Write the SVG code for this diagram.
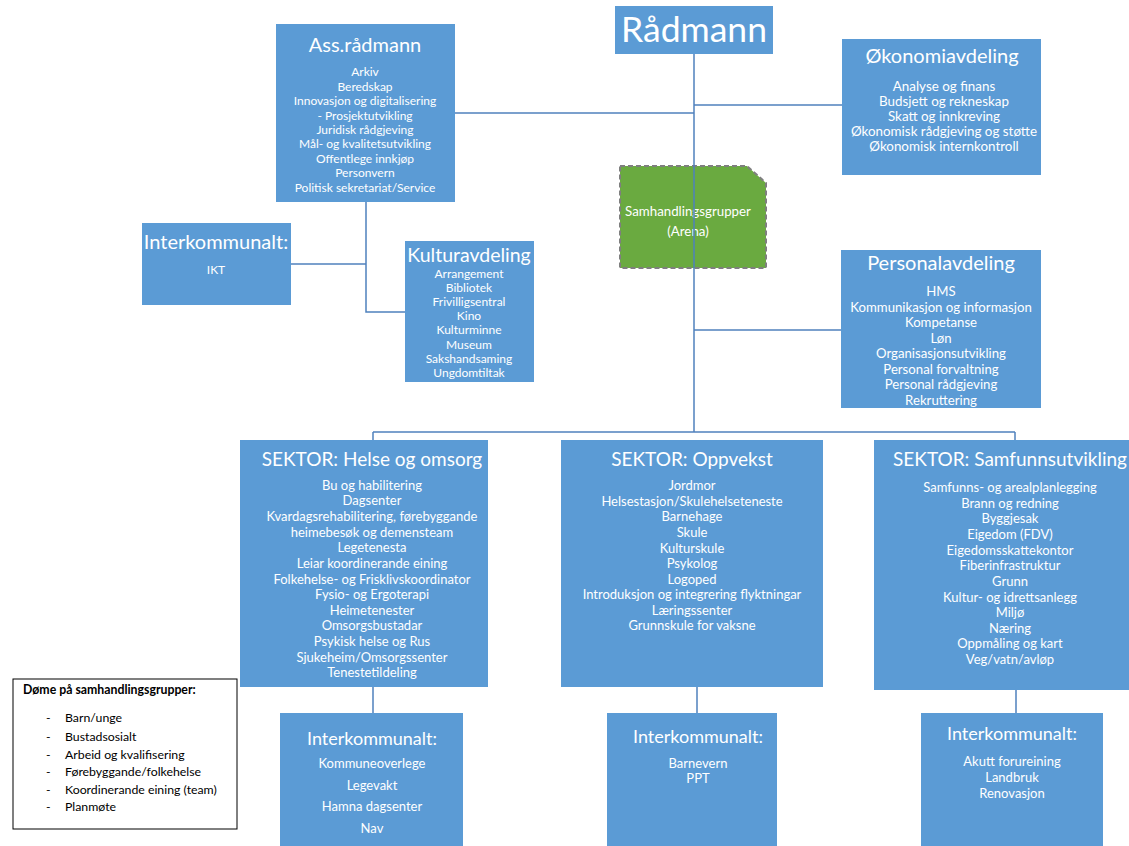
<svg xmlns="http://www.w3.org/2000/svg" width="1129" height="846" viewBox="0 0 1129 846">
<style>
.box{fill:#5B9BD5}
.t{font-family:Lato,"Liberation Sans",sans-serif;fill:#fff;text-anchor:middle}
.h{font-size:20px}
.s{font-size:19px}
.i{font-size:12px}
.i13{font-size:13px}
.i135{font-size:13.4px}
.con{stroke:#4F81BD;stroke-width:1.5;fill:none}
.leg{font-family:Lato,"Liberation Sans",sans-serif;font-size:12.3px;fill:#000}
</style>
<rect width="1129" height="846" fill="#fff"/>

<g id="samhandling">
<path d="M620,166 H747 L766,183 V268 H620 Z" fill="#6AAA40" stroke="#7F7F7F" stroke-width="2" stroke-dasharray="5,3"/>
<text class="t" x="688" y="216" font-size="13.3">Samhandlingsgrupper</text>
<text class="t" x="688" y="236" font-size="13.3">(Arena)</text>
</g>

<g id="connectors">
<path class="con" d="M694,54 V432"/>
<path class="con" d="M455,113 H694"/>
<path class="con" d="M694,105 H842"/>
<path class="con" d="M694,330 H841"/>
<path class="con" d="M366,202 V312 H405"/>
<path class="con" d="M291,264 H366"/>
<path class="con" d="M373,432 H1015"/>
<path class="con" d="M373,432 V440"/>
<path class="con" d="M1015,432 V440"/>
<path class="con" d="M373,687 V713"/>
<path class="con" d="M697,687 V713"/>
<path class="con" d="M1016,690 V713"/>
</g>

<g id="radmann">
<rect class="box" x="615" y="6" width="158" height="48"/>
<text class="t" x="694" y="42" font-size="35.5">Rådmann</text>
</g>

<g id="assradmann">
<rect class="box" x="276" y="24" width="179" height="178"/>
<text class="t h" x="365" y="52">Ass.rådmann</text>
<text class="t i" x="365" y="76">Arkiv</text>
<text class="t i" x="365" y="90.5">Beredskap</text>
<text class="t i" x="365" y="105">Innovasjon og digitalisering</text>
<text class="t i" x="365" y="119.5">- Prosjektutvikling</text>
<text class="t i" x="365" y="134">Juridisk rådgjeving</text>
<text class="t i" x="365" y="148">Mål- og kvalitetsutvikling</text>
<text class="t i" x="365" y="162.5">Offentlege innkjøp</text>
<text class="t i" x="365" y="177">Personvern</text>
<text class="t i" x="365" y="191.5">Politisk sekretariat/Service</text>
</g>

<g id="okonomi">
<rect class="box" x="842" y="39" width="199" height="136"/>
<text class="t h" x="942" y="63">Økonomiavdeling</text>
<text class="t i135" x="944" y="91">Analyse og finans</text>
<text class="t i135" x="944" y="106">Budsjett og rekneskap</text>
<text class="t i135" x="944" y="121">Skatt og innkreving</text>
<text class="t i135" x="944" y="136">Økonomisk rådgjeving og støtte</text>
<text class="t i135" x="944" y="151">Økonomisk internkontroll</text>
</g>

<g id="ikt">
<rect class="box" x="142" y="223" width="149" height="82"/>
<text class="t h" x="216" y="249">Interkommunalt:</text>
<text class="t i" x="216" y="274">IKT</text>
</g>

<g id="kultur">
<rect class="box" x="405" y="241" width="129" height="141"/>
<text class="t" x="469" y="262" font-size="19.5">Kulturavdeling</text>
<text class="t i" x="469" y="277.5">Arrangement</text>
<text class="t i" x="469" y="291.5">Bibliotek</text>
<text class="t i" x="469" y="305.5">Frivilligsentral</text>
<text class="t i" x="469" y="320">Kino</text>
<text class="t i" x="469" y="334">Kulturminne</text>
<text class="t i" x="469" y="348.5">Museum</text>
<text class="t i" x="469" y="362.5">Sakshandsaming</text>
<text class="t i" x="469" y="377">Ungdomtiltak</text>
</g>

<g id="personal">
<rect class="box" x="841" y="250" width="200" height="158"/>
<text class="t h" x="941" y="270">Personalavdeling</text>
<text class="t" x="941" y="296" font-size="13.2">HMS</text>
<text class="t" x="941" y="311.5" font-size="13.2">Kommunikasjon og informasjon</text>
<text class="t" x="941" y="327" font-size="13.2">Kompetanse</text>
<text class="t" x="941" y="342.5" font-size="13.2">Løn</text>
<text class="t" x="941" y="358" font-size="13.2">Organisasjonsutvikling</text>
<text class="t" x="941" y="373.5" font-size="13.2">Personal forvaltning</text>
<text class="t" x="941" y="389" font-size="13.2">Personal rådgjeving</text>
<text class="t" x="941" y="404.5" font-size="13.2">Rekruttering</text>
</g>

<g id="helse">
<rect class="box" x="240" y="440" width="248" height="247"/>
<text class="t s" x="372" y="466">SEKTOR: Helse og omsorg</text>
<text class="t i13" x="372" y="489.5">Bu og habilitering</text>
<text class="t i13" x="372" y="505">Dagsenter</text>
<text class="t i13" x="372" y="521">Kvardagsrehabilitering, førebyggande</text>
<text class="t i13" x="372" y="536.5">heimebesøk og demensteam</text>
<text class="t i13" x="372" y="552">Legetenesta</text>
<text class="t i13" x="372" y="568">Leiar koordinerande eining</text>
<text class="t i13" x="372" y="583.5">Folkehelse- og Frisklivskoordinator</text>
<text class="t i13" x="372" y="599">Fysio- og Ergoterapi</text>
<text class="t i13" x="372" y="614.5">Heimetenester</text>
<text class="t i13" x="372" y="630">Omsorgsbustadar</text>
<text class="t i13" x="372" y="646">Psykisk helse og Rus</text>
<text class="t i13" x="372" y="661.5">Sjukeheim/Omsorgssenter</text>
<text class="t i13" x="372" y="677">Tenestetildeling</text>
</g>

<g id="oppvekst">
<rect class="box" x="561" y="440" width="262" height="247"/>
<text class="t s" x="692" y="466">SEKTOR: Oppvekst</text>
<text class="t i13" x="692" y="490">Jordmor</text>
<text class="t i13" x="692" y="505.5">Helsestasjon/Skulehelseteneste</text>
<text class="t i13" x="692" y="521">Barnehage</text>
<text class="t i13" x="692" y="537">Skule</text>
<text class="t i13" x="692" y="552.5">Kulturskule</text>
<text class="t i13" x="692" y="568">Psykolog</text>
<text class="t i13" x="692" y="583.5">Logoped</text>
<text class="t i13" x="692" y="599">Introduksjon og integrering flyktningar</text>
<text class="t i13" x="692" y="614.5">Læringssenter</text>
<text class="t i13" x="692" y="630">Grunnskule for vaksne</text>
</g>

<g id="samfunn">
<rect class="box" x="874" y="440" width="260" height="250"/>
<text class="t s" x="1010" y="466">SEKTOR: Samfunnsutvikling</text>
<text class="t i13" x="1010" y="492">Samfunns- og arealplanlegging</text>
<text class="t i13" x="1010" y="507.5">Brann og redning</text>
<text class="t i13" x="1010" y="523">Byggjesak</text>
<text class="t i13" x="1010" y="539">Eigedom (FDV)</text>
<text class="t i13" x="1010" y="554.5">Eigedomsskattekontor</text>
<text class="t i13" x="1010" y="570">Fiberinfrastruktur</text>
<text class="t i13" x="1010" y="586">Grunn</text>
<text class="t i13" x="1010" y="601.5">Kultur- og idrettsanlegg</text>
<text class="t i13" x="1010" y="617">Miljø</text>
<text class="t i13" x="1010" y="632.5">Næring</text>
<text class="t i13" x="1010" y="648">Oppmåling og kart</text>
<text class="t i13" x="1010" y="664">Veg/vatn/avløp</text>
</g>

<g id="inter-helse">
<rect class="box" x="280" y="713" width="183" height="140"/>
<text class="t" x="372" y="745" font-size="18">Interkommunalt:</text>
<text class="t i13" x="372" y="767.5">Kommuneoverlege</text>
<text class="t i13" x="372" y="789.5">Legevakt</text>
<text class="t i13" x="372" y="810.5">Hamna dagsenter</text>
<text class="t i13" x="372" y="832.5">Nav</text>
</g>

<g id="inter-oppvekst">
<rect class="box" x="607" y="713" width="170" height="140"/>
<text class="t" x="698" y="743" font-size="18">Interkommunalt:</text>
<text class="t i13" x="698" y="767.5">Barnevern</text>
<text class="t i13" x="698" y="782.5">PPT</text>
</g>

<g id="inter-samfunn">
<rect class="box" x="921" y="713" width="182" height="140"/>
<text class="t" x="1012" y="740" font-size="18">Interkommunalt:</text>
<text class="t i13" x="1012" y="765.5">Akutt forureining</text>
<text class="t i13" x="1012" y="781.5">Landbruk</text>
<text class="t i13" x="1012" y="797.5">Renovasjon</text>
</g>

<g id="legend">
<rect x="13" y="679" width="224" height="150" fill="#fff" stroke="#000" stroke-width="1"/>
<text class="leg" x="23" y="694" font-weight="bold" font-size="12">Døme på samhandlingsgrupper:</text>
<text class="leg" x="46" y="722">-</text><text class="leg" x="65" y="722">Barn/unge</text>
<text class="leg" x="46" y="741">-</text><text class="leg" x="65" y="741">Bustadsosialt</text>
<text class="leg" x="46" y="759">-</text><text class="leg" x="65" y="759">Arbeid og kvalifisering</text>
<text class="leg" x="46" y="776">-</text><text class="leg" x="65" y="776">Førebyggande/folkehelse</text>
<text class="leg" x="46" y="794">-</text><text class="leg" x="65" y="794">Koordinerande eining (team)</text>
<text class="leg" x="46" y="811">-</text><text class="leg" x="65" y="811">Planmøte</text>
</g>
</svg>
